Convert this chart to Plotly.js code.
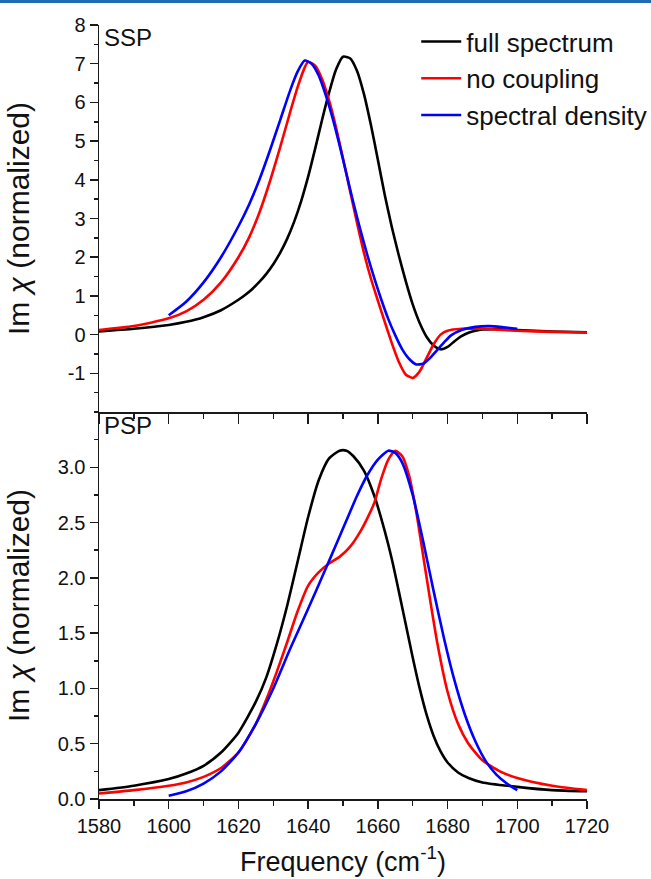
<!DOCTYPE html>
<html>
<head>
<meta charset="utf-8">
<script src="https://cdn.plot.ly/plotly-3.0.1.min.js"></script>
<style>
  html, body { margin: 0; padding: 0; background: #fff; }
  #topbar { position: absolute; left: 0; top: 0; width: 651px; height: 3px; background: #1f6cb5; }
  #chart { width: 651px; height: 879px; }
</style>
</head>
<body>
<div id="chart"></div>
<div id="topbar"></div>
<script>
// ---------- SSP panel (top) ----------
const sspFullX = [1580,1590,1600,1605,1610,1615,1620,1622,1624,1626,1628,1630,1632,1634,1636,1638,1640,1642,1644,1646,1648,1650,1652,1654,1656,1658,1660,1662,1664,1666,1668,1670,1672,1674,1676,1678,1680,1682,1684,1686,1688,1690,1695,1700,1710,1720];
const sspFullY = [0.08,0.15,0.25,0.33,0.45,0.63,0.9,1.03,1.18,1.36,1.57,1.82,2.12,2.48,2.92,3.45,4.08,4.8,5.55,6.25,6.85,7.18,7.14,6.82,6.22,5.42,4.52,3.6,2.78,2.05,1.38,0.78,0.3,-0.06,-0.28,-0.38,-0.32,-0.17,-0.04,0.05,0.1,0.13,0.14,0.12,0.08,0.06];

const sspNoCoupX = [1580,1590,1600,1605,1610,1615,1620,1623,1626,1629,1632,1635,1637,1639,1640,1642,1644,1646,1648,1650,1652,1654,1656,1658,1660,1662,1664,1666,1668,1670,1672,1674,1676,1678,1680,1684,1690,1700,1710,1720];
const sspNoCoupY = [0.12,0.22,0.42,0.6,0.9,1.35,2.0,2.5,3.15,3.95,4.85,5.8,6.4,6.9,7.05,6.95,6.6,6.05,5.35,4.55,3.72,2.9,2.12,1.45,0.88,0.32,-0.22,-0.7,-1.03,-1.12,-0.95,-0.6,-0.25,0.0,0.1,0.15,0.15,0.1,0.07,0.05];

const sspSpecX = [1600,1605,1610,1615,1620,1623,1626,1629,1632,1635,1637,1639,1641,1643,1645,1647,1649,1651,1653,1655,1657,1659,1661,1663,1665,1667,1669,1671,1673,1675,1677,1679,1681,1684,1688,1692,1696,1700];
const sspSpecY = [0.5,0.85,1.35,2.0,2.8,3.35,4.0,4.75,5.55,6.35,6.8,7.08,7.0,6.7,6.2,5.6,4.9,4.15,3.4,2.7,2.05,1.45,0.9,0.4,-0.02,-0.38,-0.63,-0.77,-0.75,-0.6,-0.4,-0.2,-0.02,0.12,0.2,0.22,0.19,0.15];

// ---------- PSP panel (bottom) ----------
const pspFullX = [1580,1590,1600,1605,1610,1615,1620,1625,1628,1631,1634,1637,1640,1643,1646,1649,1651,1653,1656,1659,1662,1664,1666,1668,1670,1672,1674,1676,1678,1680,1683,1686,1690,1700,1710,1720];
const pspFullY = [0.08,0.12,0.18,0.23,0.3,0.42,0.6,0.88,1.1,1.4,1.75,2.15,2.55,2.88,3.08,3.15,3.15,3.1,2.97,2.74,2.42,2.17,1.88,1.58,1.28,1.0,0.76,0.57,0.43,0.33,0.24,0.19,0.15,0.11,0.08,0.07];

const pspNoCoupX = [1580,1590,1600,1605,1610,1615,1620,1625,1628,1631,1634,1637,1640,1643,1646,1649,1652,1655,1657,1659,1661,1663,1665,1667,1669,1671,1673,1675,1677,1680,1683,1686,1690,1695,1700,1710,1720];
const pspNoCoupY = [0.05,0.08,0.12,0.15,0.2,0.28,0.42,0.68,0.9,1.15,1.42,1.7,1.93,2.05,2.13,2.19,2.28,2.42,2.54,2.68,2.9,3.07,3.15,3.1,2.92,2.6,2.2,1.8,1.42,0.97,0.68,0.5,0.35,0.25,0.19,0.12,0.08];

const pspSpecX = [1600,1605,1610,1615,1620,1625,1630,1635,1640,1645,1648,1651,1654,1657,1660,1663,1665,1667,1670,1673,1676,1679,1682,1685,1688,1691,1694,1697,1700];
const pspSpecY = [0.03,0.07,0.14,0.25,0.42,0.68,1.0,1.37,1.72,2.08,2.3,2.52,2.74,2.93,3.07,3.15,3.13,3.04,2.75,2.33,1.88,1.45,1.07,0.76,0.52,0.34,0.22,0.14,0.08];

const seriesNames = ["full spectrum", "no coupling", "spectral density"];
const seriesColors = ["#000000", "#ff0000", "#0000ff"];

const xTickVals = [1580,1600,1620,1640,1660,1680,1700,1720];
const sspTickVals = [-1,0,1,2,3,4,5,6,7,8];
const sspTickText = ["-1","0","1","2","3","4","5","6","7","8"];
const pspTickVals = [0.0,0.5,1.0,1.5,2.0,2.5,3.0];
const pspTickText = ["0.0","0.5","1.0","1.5","2.0","2.5","3.0"];

const FONT = "Liberation Sans, Arial, sans-serif";
const LW = 2.6;

function tr(x, y, i, xa, ya, show) {
  return { x: x, y: y, type: "scatter", mode: "lines", name: seriesNames[i],
    line: { color: seriesColors[i], width: LW, shape: "spline", smoothing: 0.6 },
    xaxis: xa, yaxis: ya, showlegend: show };
}

const data = [
  tr(sspFullX, sspFullY, 0, "x2", "y2", true),
  tr(sspNoCoupX, sspNoCoupY, 1, "x2", "y2", true),
  tr(sspSpecX, sspSpecY, 2, "x2", "y2", true),
  tr(pspFullX, pspFullY, 0, "x", "y", false),
  tr(pspNoCoupX, pspNoCoupY, 1, "x", "y", false),
  tr(pspSpecX, pspSpecY, 2, "x", "y", false)
];

const axCommon = {
  showgrid: false, zeroline: false, showline: true, linecolor: "#1a1a1a", linewidth: 1.5,
  ticks: "outside", tickcolor: "#1a1a1a", tickwidth: 1.5, ticklen: 8,
  tickfont: { family: FONT, size: 20, color: "#111" }, automargin: false
};

const yTitle = "Im <i>\u03c7</i> (normalized)";

const layout = {
  width: 651, height: 879,
  margin: { l: 99, r: 64, t: 25, b: 80, autoexpand: false },
  paper_bgcolor: "#fff", plot_bgcolor: "#fff",
  font: { family: FONT, color: "#111" },
  showlegend: true,
  legend: { x: 0.65, y: 1.009, xanchor: "left", yanchor: "top", bgcolor: "rgba(0,0,0,0)",
    font: { family: FONT, size: 26, color: "#111" }, tracegroupgap: 0, itemwidth: 40 },
  xaxis: Object.assign({}, axCommon, {
    range: [1580, 1720], tickvals: xTickVals, anchor: "y",
    minor: { dtick: 10, ticklen: 5, tickcolor: "#1a1a1a", tickwidth: 1.5, ticks: "outside" },
    title: { text: "Frequency (cm<sup>-1</sup>)", font: { family: FONT, size: 27, color: "#111" }, standoff: 16 }
  }),
  xaxis2: Object.assign({}, axCommon, {
    range: [1580, 1720], tickvals: xTickVals, anchor: "y2", showticklabels: false, matches: "x",
    ticklen: 10,
    minor: { dtick: 10, ticklen: 5, tickcolor: "#1a1a1a", tickwidth: 1.5, ticks: "outside" }
  }),
  yaxis: Object.assign({}, axCommon, {
    domain: [0, 0.5], range: [0, 3.5], tickvals: pspTickVals, ticktext: pspTickText, anchor: "x",
    minor: { dtick: 0.25, ticklen: 4, tickcolor: "#1a1a1a", tickwidth: 1.5, ticks: "outside" },
    title: { text: yTitle, font: { family: FONT, size: 30, color: "#111" } }
  }),
  yaxis2: Object.assign({}, axCommon, {
    domain: [0.5, 1], range: [-2, 8], tickvals: sspTickVals, ticktext: sspTickText, anchor: "x2",
    minor: { dtick: 0.5, ticklen: 4, tickcolor: "#1a1a1a", tickwidth: 1.5, ticks: "outside" },
    title: { text: yTitle, font: { family: FONT, size: 30, color: "#111" } }
  }),
  annotations: [
    { text: "SSP", xref: "paper", yref: "paper", x: 0.006, y: 1.004, xanchor: "left", yanchor: "top",
      showarrow: false, font: { family: FONT, size: 24, color: "#111" } },
    { text: "PSP", xref: "paper", yref: "paper", x: 0.006, y: 0.503, xanchor: "left", yanchor: "top",
      showarrow: false, font: { family: FONT, size: 24, color: "#111" } }
  ]
};

Plotly.newPlot("chart", data, layout, { displayModeBar: false, staticPlot: true });
</script>
</body>
</html>
